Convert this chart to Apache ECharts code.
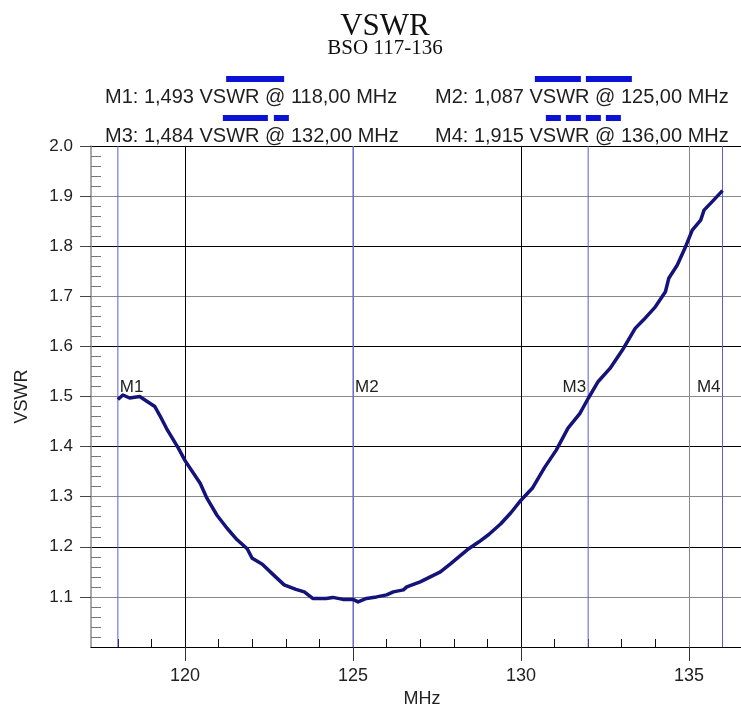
<!DOCTYPE html>
<html><head><meta charset="utf-8">
<script src="https://cdn.jsdelivr.net/npm/echarts@6/dist/echarts.min.js"></script>
<style>html,body{margin:0;padding:0;background:#fff}#c{width:741px;height:705px}</style>
</head><body><div id="c"></div>
<script>
// Measured sweep (MHz, VSWR)
const freqMHz = [118.0,118.15,118.35,118.65,118.85,119.1,119.25,119.45,119.8,120.0,120.25,120.45,120.65,120.95,121.25,121.55,121.85,122.0,122.3,122.6,122.95,123.3,123.55,123.8,124.2,124.4,124.7,125.0,125.15,125.4,125.7,126.0,126.2,126.5,126.6,127.0,127.3,127.6,127.9,128.4,128.75,129.05,129.4,129.7,130.0,130.35,130.7,131.05,131.4,131.75,132.0,132.3,132.65,132.95,133.05,133.4,133.65,134.0,134.3,134.4,134.65,134.9,135.1,135.35,135.45,135.65,136.0];
const vswr = [1.494,1.503,1.497,1.500,1.491,1.480,1.462,1.436,1.397,1.372,1.347,1.327,1.297,1.263,1.237,1.214,1.196,1.177,1.165,1.146,1.124,1.115,1.110,1.097,1.097,1.099,1.095,1.095,1.090,1.097,1.100,1.104,1.110,1.114,1.120,1.130,1.140,1.150,1.166,1.194,1.210,1.225,1.246,1.268,1.293,1.318,1.358,1.393,1.437,1.466,1.496,1.530,1.556,1.586,1.596,1.636,1.653,1.679,1.709,1.736,1.762,1.799,1.832,1.852,1.872,1.886,1.911];

const markerNames = ['M1','M2','M3','M4'];
const markerFreq = [118, 125, 132, 136];
const markerVswr = [1.493, 1.087, 1.484, 1.915];

const xTickLabels = [120, 125, 130, 135];
const yTickLabels = ['1.1','1.2','1.3','1.4','1.5','1.6','1.7','1.8','1.9','2.0'];

const titleText = 'VSWR';
const subtitleText = 'BSO 117-136';
const xName = 'MHz';
const yName = 'VSWR';

const X_MIN = 117.2, X_MAX = 136.55, Y_MIN = 1.0, Y_MAX = 2.0;
const FONT = '"Liberation Sans", Arial, sans-serif';
const SERIF = '"Liberation Serif", "Times New Roman", serif';

const curve = freqMHz.map((f, i) => [f, vswr[i]]);

// legend swatch patterns (rich tokens)
const patterns = [
  '{g8|}{d58|}',
  '{g3|}{d46|}{g5|}{d46|}',
  '{g8|}{d45|}{g6|}{d15|}',
  '{g3|}{d15|}{g5|}{d15|}{g5|}{d15|}{g5|}{d15|}'
];
const swatchColor = '#0b12d6';
function dash(w){ return {width:w, height:6, backgroundColor:swatchColor, align:'center', lineHeight:14}; }
function gap(w){ return {width:w, height:6, align:'center', lineHeight:14}; }
const rich = {
  d58: dash(58), d46: dash(46), d45: dash(45), d15: dash(15),
  g3: gap(3), g5: gap(5), g6: gap(6), g8: gap(8),
  t: {fontSize:20, lineHeight:22, fontFamily:FONT, color:'#1e1e1e'}
};
function legendFmt(name){
  const i = markerNames.indexOf(name);
  const v = markerVswr[i].toFixed(3).replace('.', ',');
  const f = markerFreq[i].toFixed(2).replace('.', ',');
  return patterns[i] + '\n{t|' + name + ': ' + v + ' VSWR @ ' + f + ' MHz}';
}
const legendBase = {
  orient:'vertical', top:73, itemGap:5, itemWidth:0, itemHeight:0, icon:'rect',
  padding:0, selectedMode:false, formatter:legendFmt, textStyle:{rich:rich}
};

const markerSeries = markerNames.map((n, i) => ({
  name: n, type:'line', xAxisIndex:0, yAxisIndex:0, silent:true, z:3,
  symbol:'circle', symbolSize:0, showSymbol:true,
  lineStyle:{color:'#5b5be2', width:1},
  itemStyle:{color:'#5b5be2'},
  emphasis:{disabled:true},
  data:[
    [markerFreq[i], Y_MIN],
    {value:[markerFreq[i], 1.5], label:{
      show:true, formatter:n, fontFamily:FONT, fontSize:17, color:'#222',
      position: i < 2 ? [2, -1] : [-2, -1],
      align: i < 2 ? 'left' : 'right', verticalAlign:'bottom'
    }},
    [markerFreq[i], Y_MAX]
  ]
}));

const xCommon = {type:'value', min:X_MIN, max:X_MAX, minInterval:5, maxInterval:5};
const yCommon = {type:'value', min:Y_MIN, max:Y_MAX, interval:0.1};

const option = {
  animation:false,
  backgroundColor:'#fff',
  title:[
    {text:titleText, left:385, top:11, textAlign:'center', padding:0,
     textStyle:{fontFamily:SERIF, fontSize:31, fontWeight:'normal', color:'#111'}},
    {text:subtitleText, left:385, top:38, textAlign:'center', padding:0,
     textStyle:{fontFamily:SERIF, fontSize:21, fontWeight:'normal', color:'#111'}}
  ],
  legend:[
    Object.assign({}, legendBase, {left:100, data:['M1','M3']}),
    Object.assign({}, legendBase, {left:430, data:['M2','M4']})
  ],
  grid:{left:91, right:0, top:146, bottom:58, containLabel:false, outerBoundsMode:'none'},
  xAxis:[
    Object.assign({}, xCommon, {
      position:'bottom',
      name:xName, nameLocation:'middle', nameGap:40,
      nameTextStyle:{fontFamily:FONT, fontSize:18, color:'#222', padding:[0,0,0,12]},
      axisLine:{show:true, lineStyle:{color:'#000', width:1.2}},
      axisTick:{show:true, inside:false, length:14, lineStyle:{color:'#333', width:1}, customValues:xTickLabels},
      axisLabel:{show:true, margin:20, fontFamily:FONT, fontSize:18, color:'#222', customValues:xTickLabels,
                 formatter:v => String(v)},
      splitLine:{show:true, lineStyle:{color:['#000','#888'], width:1}},
      minorTick:{show:false}
    }),
    Object.assign({}, xCommon, {
      position:'bottom',
      axisLine:{show:false},
      axisTick:{show:false, inside:true},
      axisLabel:{show:false},
      splitLine:{show:false},
      minorTick:{show:true, splitNumber:5, length:8, lineStyle:{color:'#111', width:1}}
    })
  ],
  yAxis:[
    Object.assign({}, yCommon, {
      position:'left',
      name:yName, nameLocation:'middle', nameGap:60,
      nameTextStyle:{fontFamily:FONT, fontSize:18, color:'#222'},
      axisLine:{show:true, lineStyle:{color:'#8c8c8c', width:1.5}},
      axisTick:{show:true, inside:false, length:11, lineStyle:{color:'#444', width:1}},
      axisLabel:{show:true, margin:18, fontFamily:FONT, fontSize:17, color:'#222',
                 showMinLabel:false,
                 formatter:v => { const s = v.toFixed(1); return yTickLabels.indexOf(s) >= 0 ? s : ''; }},
      splitLine:{show:true, lineStyle:{color:['#000','#888'], width:1}}
    }),
    Object.assign({}, yCommon, {
      position:'left',
      axisLine:{show:false},
      axisTick:{show:false, inside:true},
      axisLabel:{show:false},
      splitLine:{show:false},
      minorTick:{show:true, splitNumber:5, length:10, lineStyle:{color:'#777', width:1}}
    })
  ],
  series:[
    ...markerSeries,
    {
      name:'VSWR', type:'line', xAxisIndex:0, yAxisIndex:0, z:5,
      showSymbol:false, silent:true,
      lineStyle:{color:'#13137a', width:3.5, join:'round'},
      emphasis:{disabled:true},
      data:curve
    }
  ]
};

const chart = echarts.init(document.getElementById('c'));
chart.setOption(option);
</script>
</body></html>
